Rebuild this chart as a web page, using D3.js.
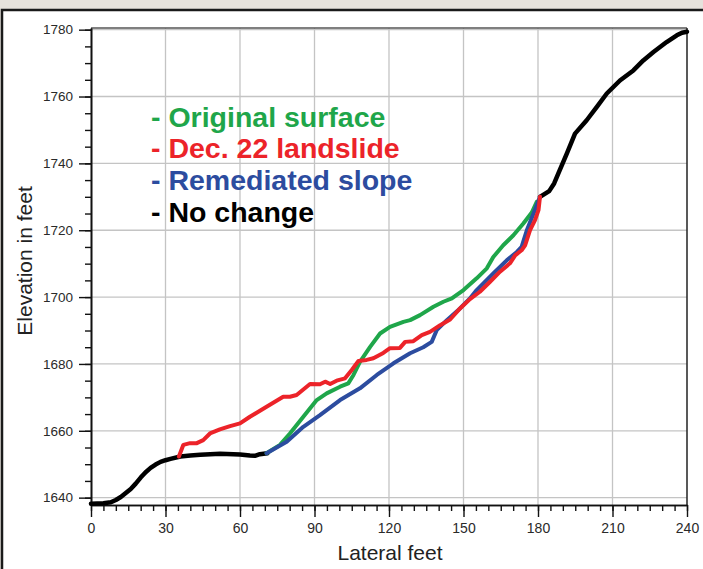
<!DOCTYPE html>
<html lang="en">
<head>
<meta charset="UTF-8">
<title>Elevation profile</title>
<style>
    html, body{ margin:0; background:#e6e2dc; overflow:hidden; }
    svg{ display:block; }
    text{ font-family:"Liberation Sans", Arial, Helvetica, sans-serif; }
</style>
</head>
<body>
<script src="https://cdn.jsdelivr.net/npm/d3@7"></script>
<script>
    // donnees : [pieds lateraux, elevation]
    const noChangeLow = [[0,1638.2],[5,1638.3],[8,1638.6],[10,1639.3],[12,1640.2],[14,1641.4],[16,1642.6],[18,1644.2],[20,1646],[22,1647.6],[24,1648.9],[26,1649.9],[28,1650.7],[30,1651.2],[32,1651.6],[36,1652.3],[40,1652.6],[44,1652.8],[52,1653.1],[60,1652.9],[64,1652.6],[66,1652.5],[68,1653],[71,1653.3]];
    const noChangeHigh = [[180.8,1730],[184.5,1731.7],[186.5,1734],[188.5,1737.5],[191.6,1742.9],[194.9,1748.9],[199.6,1752.9],[203.7,1756.9],[207.7,1760.9],[213,1764.8],[218.4,1767.8],[222.4,1770.8],[226.5,1773.3],[231.8,1776.3],[235.9,1778.3],[238,1779.1],[240,1779.4]];
    const originalSurface = [[70.7,1653.3],[76.1,1655.8],[80.1,1659.2],[85.5,1664.2],[90.9,1669.2],[94.9,1671.2],[100.3,1673.2],[103.6,1674.2],[105.7,1676.7],[108.3,1680.6],[112.4,1685.1],[116.4,1689.1],[120.4,1691.1],[125.8,1692.6],[128.5,1693.1],[132.5,1694.6],[137.9,1697.1],[141.9,1698.6],[145.3,1699.6],[150,1702.1],[155.3,1705.6],[159.4,1708.6],[162,1712],[166,1715.5],[170.1,1718.5],[174.1,1722],[177.5,1725.3],[179.5,1728.5]];
    const landslide = [[35.4,1652.3],[37.2,1655.8],[39.9,1656.3],[42.6,1656.3],[45.2,1657.2],[47.9,1659.2],[51.9,1660.4],[56,1661.4],[60,1662.2],[64,1664.2],[70.7,1667.2],[77.4,1670.2],[80.1,1670.2],[82.8,1670.7],[88.2,1674],[92.2,1673.9],[94.3,1674.7],[96.3,1674],[98.9,1675],[102.3,1675.7],[105,1678.2],[107.7,1680.9],[111,1681.2],[113.7,1681.7],[117.7,1683.3],[120.4,1684.7],[124.4,1684.8],[126.5,1686.6],[129.8,1686.8],[133.2,1688.6],[136.5,1689.6],[140.6,1691.6],[144.6,1693.3],[148.6,1696.6],[152.6,1699.4],[156.6,1701.6],[160.7,1704.6],[164.7,1707.6],[168.7,1710.1],[170.8,1712.5],[173.4,1714],[174.8,1715.5],[176.8,1720],[178.8,1723],[180.2,1726],[180.8,1730]];
    const remediated = [[70.7,1653.3],[78.8,1656.7],[85.5,1661.2],[92.2,1664.7],[100.3,1669.2],[108.3,1672.7],[115.1,1676.7],[121.8,1680.2],[128.5,1683.2],[133.8,1685],[137.2,1686.6],[139.2,1690.1],[143.3,1693.1],[148.6,1696.6],[152.6,1699.6],[155.3,1702.1],[162,1707.1],[167.4,1711],[171.5,1713.5],[173.4,1715],[175.5,1720],[178.2,1725],[180.8,1730]];

    const xTicks = [0,30,60,90,120,150,180,210,240];
    const yTicks = [1640,1660,1680,1700,1720,1740,1760,1780];
    const legendLabels = ["- Original surface","- Dec. 22 landslide","- Remediated slope","- No change"];

    const couleurs = {vert:'#1fa64a', rouge:'#ec2329', bleu:'#2c4c9f', noir:'#000'};
    const legendColors = [couleurs.vert, couleurs.rouge, couleurs.bleu, couleurs.noir];

    const W = 703, H = 569;
    const gauche = 91, droite = 687, haut = 28, bas = 505;

    let svg = d3.select('body').append('svg')
        .attr('width', W)
        .attr('height', H);

    // fond et cadre (bordure haut et gauche seulement)
    svg.append('rect').attr('width', W).attr('height', H).attr('fill', '#e6e2dc');
    svg.append('rect').attr('x', 2).attr('y', 10).attr('width', W).attr('height', H).attr('fill', '#fff');
    svg.append('path')
        .attr('d', `M2,${H} L2,10 L${W},10`)
        .attr('fill', 'none').attr('stroke', '#1a1a1a').attr('stroke-width', 2.5);

    let x = d3.scaleLinear().domain([0, 240]).range([gauche, droite]);
    let y = d3.scaleLinear().domain([1637.8, 1780.5]).range([bas, haut]);

    // grille
    let grille = svg.append('g');
    grille.selectAll('line.v')
        .data(xTicks.slice(1, -1))
        .enter().append('line')
            .attr('x1', d => x(d)).attr('x2', d => x(d))
            .attr('y1', haut).attr('y2', bas)
            .attr('stroke', '#c4c4c4').attr('stroke-width', 1.3);
    grille.selectAll('line.h')
        .data(yTicks)
        .enter().append('line')
            .attr('x1', gauche).attr('x2', droite)
            .attr('y1', d => y(d)).attr('y2', d => y(d))
            .attr('stroke', '#c4c4c4').attr('stroke-width', 1.3);

    // cadre du graphique (haut et droite)
    svg.append('line').attr('x1', gauche).attr('x2', droite).attr('y1', haut).attr('y2', haut)
        .attr('stroke', '#555').attr('stroke-width', 1.3);
    svg.append('line').attr('x1', droite).attr('x2', droite).attr('y1', haut).attr('y2', bas)
        .attr('stroke', '#222').attr('stroke-width', 1.5);

    // axes : graduations mineures tous les 5
    svg.append('g').attr('transform', `translate(0,${bas})`)
        .call(d3.axisBottom(x).tickValues(d3.range(0, 241, 5)).tickSize(6).tickSizeOuter(0).tickFormat(''));
    svg.append('g').attr('transform', `translate(${gauche},0)`)
        .call(d3.axisLeft(y).tickValues(d3.range(1640, 1781, 5)).tickSize(6).tickSizeOuter(0).tickFormat(''));

    let axeX = svg.append('g').attr('transform', `translate(0,${bas})`)
        .call(d3.axisBottom(x).tickValues(xTicks).tickSize(12).tickSizeOuter(0).tickPadding(6));
    let axeY = svg.append('g').attr('transform', `translate(${gauche},0)`)
        .call(d3.axisLeft(y).tickValues(yTicks).tickSize(12).tickSizeOuter(0).tickPadding(6).tickFormat(d3.format('d')));

    svg.selectAll('.domain').attr('stroke', '#111').attr('stroke-width', 1.6);
    svg.selectAll('.tick line').attr('stroke', '#111').attr('stroke-width', 1.4);
    axeX.selectAll('text').style('font-size', '14px').attr('fill', '#2a2a2a');
    axeY.selectAll('text').style('font-size', '13.5px').attr('fill', '#2a2a2a');

    // titres des axes
    svg.append('text')
        .attr('x', 390).attr('y', 560)
        .attr('text-anchor', 'middle')
        .style('font-size', '21px').attr('fill', '#222')
        .text('Lateral feet');
    svg.append('text')
        .attr('transform', 'translate(32,261) rotate(-90)')
        .attr('text-anchor', 'middle')
        .style('font-size', '21px').attr('fill', '#222')
        .text('Elevation in feet');

    // courbes
    let ligne = d3.line().x(d => x(d[0])).y(d => y(d[1]));
    const series = [
        {donnees: noChangeLow, couleur: couleurs.noir, ep: 4.5},
        {donnees: noChangeHigh, couleur: couleurs.noir, ep: 4.5},
        {donnees: originalSurface, couleur: couleurs.vert, ep: 4},
        {donnees: remediated, couleur: couleurs.bleu, ep: 4},
        {donnees: landslide, couleur: couleurs.rouge, ep: 4}
    ];
    svg.append('g').selectAll('path')
        .data(series)
        .enter().append('path')
            .attr('d', d => ligne(d.donnees))
            .attr('fill', 'none')
            .attr('stroke', d => d.couleur)
            .attr('stroke-width', d => d.ep)
            .attr('stroke-linejoin', 'round')
            .attr('stroke-linecap', 'round');

    // legende
    svg.append('g').selectAll('text')
        .data(legendLabels)
        .enter().append('text')
            .attr('x', 151)
            .attr('y', (d, i) => 126.5 + i * 31.7)
            .style('font-size', '28.5px')
            .style('font-weight', 'bold')
            .attr('fill', (d, i) => legendColors[i])
            .text(d => d);
</script>
</body>
</html>
